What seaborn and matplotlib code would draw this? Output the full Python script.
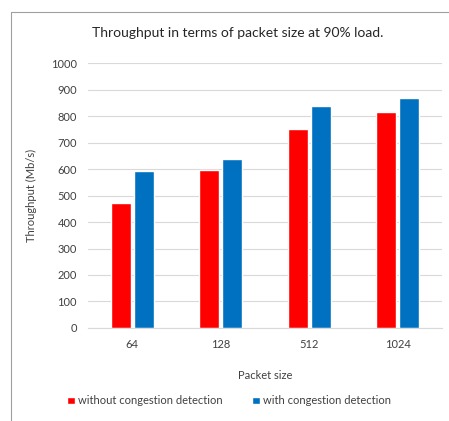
import matplotlib
matplotlib.use("Agg")
import matplotlib.pyplot as plt
import seaborn as sns
import pandas as pd

# values
packet_sizes = ["64", "128", "512", "1024"]
without_cd = [472, 596, 752, 815]
with_cd = [592, 639, 840, 870]
series_names = ["without congestion detection", "with congestion detection"]
y_ticks = [0, 100, 200, 300, 400, 500, 600, 700, 800, 900, 1000]

df = pd.DataFrame({
    "Packet size": packet_sizes * 2,
    "Throughput": without_cd + with_cd,
    "Series": [series_names[0]] * 4 + [series_names[1]] * 4,
})

sns.set_style("white")
plt.rcParams['font.family'] = ['Lato', 'DejaVu Sans']

fig = plt.figure(figsize=(4.49, 4.21), dpi=100)
ax = fig.add_axes([0.196, 0.221, 0.788, 0.629])

sns.barplot(data=df, x="Packet size", y="Throughput", hue="Series",
            order=packet_sizes, hue_order=series_names,
            palette=["#FF0000", "#0070C0"], width=0.52, gap=0.12,
            saturation=1, ax=ax, legend=True)

ax.set_ylim(0, 1000)
ax.set_yticks(y_ticks)
ax.yaxis.grid(True, color="#d9d9d9", linewidth=0.8)
ax.set_axisbelow(True)
for s in ["top", "right", "left"]:
    ax.spines[s].set_visible(False)
ax.spines["bottom"].set_color("#d9d9d9")
ax.tick_params(axis="both", length=0, labelsize=8, colors="#404040", pad=8)

ax.set_xlabel("Packet size", fontsize=8, color="#404040", labelpad=14)
ax.set_ylabel("Throughput (Mb/s)", fontsize=8, color="#404040", labelpad=10)
fig.text(0.53, 0.922, "Throughput in terms of packet size at 90% load.",
         ha="center", va="center", fontsize=10, color="#262626")

handles, labels = ax.get_legend_handles_labels()
ax.legend_.remove()
fig.legend(handles, labels, loc="center", bbox_to_anchor=(0.51, 0.048),
           ncol=2, frameon=False, fontsize=8, handlelength=0.7,
           handleheight=0.7, handletextpad=0.3, columnspacing=2.6,
           labelcolor="#404040")

# outer chart frame: only top and left edges are visible in the crop
fig.add_artist(plt.Line2D([0.025, 1.0], [0.972, 0.972], transform=fig.transFigure,
                          color="#a0a0a0", linewidth=0.8))
fig.add_artist(plt.Line2D([0.025, 0.025], [0.0, 0.972], transform=fig.transFigure,
                          color="#a0a0a0", linewidth=0.8))

fig.savefig("out.png", dpi=100)
